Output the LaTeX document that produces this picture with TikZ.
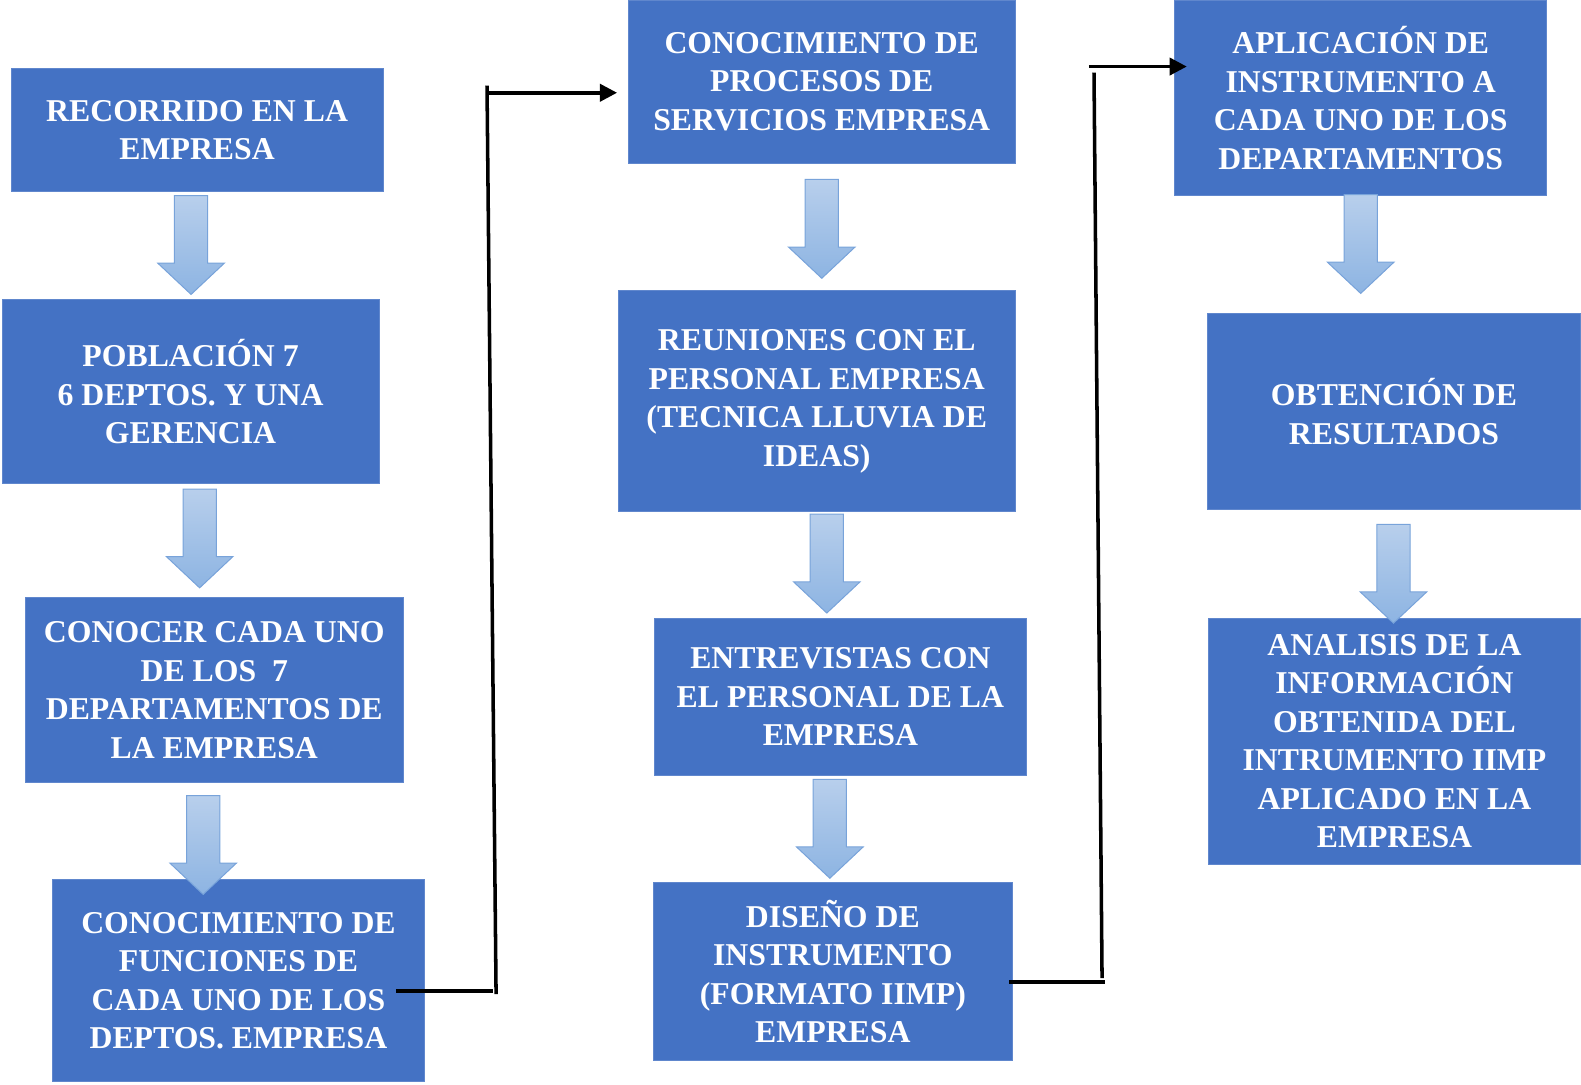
\documentclass[tikz,border=0pt]{standalone}
\usepackage{fontspec}
\setmainfont{Liberation Serif}
\usetikzlibrary{arrows.meta}
\definecolor{boxblue}{RGB}{68,114,196}
\definecolor{arrowtop}{RGB}{184,207,236}
\definecolor{arrowbot}{RGB}{141,180,226}
\definecolor{arrowline}{RGB}{120,163,218}

\begin{document}
\begin{tikzpicture}[x=1pt,y=-1pt,
            box/.style={fill=boxblue,draw=boxblue!85!white,line width=1pt,text=white,
              align=center,inner sep=0pt,font=\bfseries\fontsize{31.5}{38.2}\selectfont},
            line/.style={draw,line width=3.5pt},
            arrow/.style={line,-{Triangle[length=17pt,width=17pt]}},
            downarrow/.pic={\path[top color=arrowtop,bottom color=arrowbot,draw=arrowline,line width=1pt]
              (-16.5,0) -- (16.5,0) -- (16.5,67) -- (33,67) -- (0,98) -- (-33,67) -- (-16.5,67) -- cycle;}
          ]
          \useasboundingbox (0,0) rectangle (1568,1076);

          % first column
          \node[box,minimum width=369,minimum height=122] (recorrido) at (195.5,129) {RECORRIDO EN LA\\EMPRESA};
          \node[box,minimum width=374,minimum height=183] (poblacion) at (189,388.5) {POBLACIÓN 7\\6 DEPTOS. Y UNA\\GERENCIA};
          \node[box,minimum width=375,minimum height=183] (conocer) at (212.5,684.5) {CONOCER CADA UNO\\DE LOS~~7\\DEPARTAMENTOS DE\\LA EMPRESA};
          \node[box,minimum width=369,minimum height=201] (funciones) at (236.5,972.5) {CONOCIMIENTO DE\\FUNCIONES DE\\CADA UNO DE LOS\\DEPTOS. EMPRESA};
          \pic at (189.5,194) {downarrow};
          \pic at (198,485) {downarrow};
          \pic at (201.5,789) {downarrow};

          % second column
          \node[box,minimum width=384,minimum height=162] (procesos) at (815,81) {CONOCIMIENTO DE\\PROCESOS DE\\SERVICIOS EMPRESA};
          \node[box,minimum width=394,minimum height=219] (reuniones) at (810,398) {REUNIONES CON EL\\PERSONAL EMPRESA\\(TECNICA LLUVIA DE\\IDEAS)};
          \node[box,minimum width=369,minimum height=156] (entrevistas) at (833.5,691) {ENTREVISTAS CON\\EL PERSONAL DE LA\\EMPRESA};
          \node[box,minimum width=356,minimum height=177] (diseno) at (826,963.5) {DISEÑO DE\\INSTRUMENTO\\(FORMATO IIMP)\\EMPRESA};
          \pic at (815,178) {downarrow};
          \pic at (820,510) {downarrow};
          \pic at (823,773) {downarrow};

          % third column
          \node[box,minimum width=369,minimum height=194] (aplicacion) at (1349.5,97) {APLICACIÓN DE\\INSTRUMENTO A\\CADA UNO DE LOS\\DEPARTAMENTOS};
          \node[box,minimum width=369,minimum height=194] (obtencion) at (1382.5,408) {OBTENCIÓN DE\\RESULTADOS};
          \node[box,minimum width=368,minimum height=244] (analisis) at (1383,735) {ANALISIS DE LA\\INFORMACIÓN\\OBTENIDA DEL\\INTRUMENTO IIMP\\APLICADO EN LA\\EMPRESA};
          \pic at (1349.5,193) {downarrow};
          \pic at (1382,520) {downarrow};

          % connectors between columns
          \coordinate (f1) at (393,983);
          \coordinate (f2) at (489,983);
          \coordinate (f3) at (492,986);
          \coordinate (f4) at (483,85);
          \coordinate (f5) at (482,92);
          \coordinate (f6) at (612,92);
          \draw[line] (f1) -- (f2);
          \draw[line] (f3) -- (f4);
          \draw[arrow] (f5) -- (f6);

          \coordinate (d1) at (1001,974);
          \coordinate (d2) at (1096,974);
          \coordinate (d3) at (1093,970);
          \coordinate (d4) at (1085,72);
          \coordinate (d5) at (1080,66);
          \coordinate (d6) at (1177,66);
          \draw[line] (d1) -- (d2);
          \draw[line] (d3) -- (d4);
          \draw[arrow] (d5) -- (d6);
          \end{tikzpicture}
\end{document}
